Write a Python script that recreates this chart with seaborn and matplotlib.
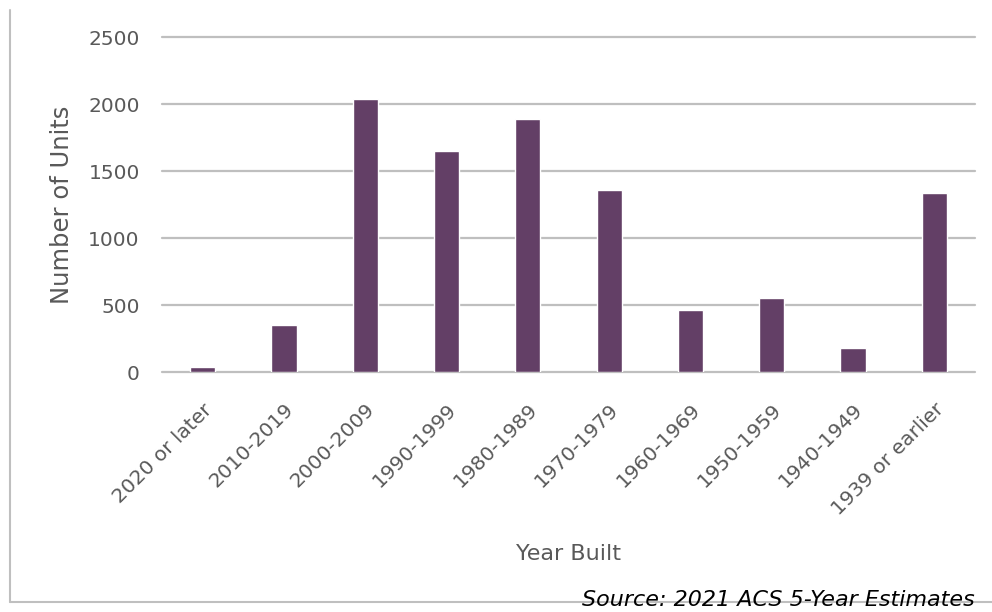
import matplotlib.pyplot as plt
import seaborn as sns
import pandas as pd

# dados
year_built = ['2020 or later', '2010-2019', '2000-2009', '1990-1999', '1980-1989',
              '1970-1979', '1960-1969', '1950-1959', '1940-1949', '1939 or earlier']
units = [40, 350, 2040, 1650, 1885, 1358, 460, 551, 179, 1338]
y_ticks = [0, 500, 1000, 1500, 2000, 2500]

df = pd.DataFrame({'Year Built': year_built, 'Units': units})

sns.set_style('white')
plt.rcParams['font.family'] = ['DejaVu Sans']

fig = plt.figure(figsize=(9.92, 6.12), dpi=100)
ax = fig.add_axes([0.1633, 0.392, 0.8196, 0.5475])

sns.barplot(data=df, x='Year Built', y='Units', color='#633f66', saturation=1,
            width=0.31, ax=ax, zorder=3)

ax.set_ylim(0, 2500)
ax.set_xlim(-0.5, 9.5)
ax.set_yticks(y_ticks)
ax.yaxis.grid(True, color='#bfbfbf', linewidth=1.6, zorder=0)
ax.set_axisbelow(True)
for gl in ax.get_ygridlines():
    gl.set_clip_on(False)  # linhas do topo e do zero com espessura inteira
sns.despine(ax=ax, left=True, bottom=True)
ax.tick_params(axis='both', length=0, colors='#595959', labelsize=14.5)
ax.tick_params(axis='y', pad=16)
ax.tick_params(axis='x', pad=20)
plt.setp(ax.get_xticklabels(), rotation=45, ha='right', rotation_mode='anchor')

ax.set_xlabel('Year Built', color='#595959', fontsize=16, labelpad=18)
ax.set_ylabel('Number of Units', color='#595959', fontsize=17.5, labelpad=10)

# moldura do gráfico (esquerda e baixo)
fig.add_artist(plt.Line2D([10 / 992, 10 / 992], [1 - 10 / 612, 1 - 602 / 612],
                          color='#bfbfbf', linewidth=1.5))
fig.add_artist(plt.Line2D([10 / 992, 1.0], [1 - 602 / 612, 1 - 602 / 612],
                          color='#bfbfbf', linewidth=1.5))

fig.text(975 / 992, 1 - 600 / 612, 'Source: 2021 ACS 5-Year Estimates',
         ha='right', va='center', fontsize=16, style='italic', color='black')

plt.savefig('out.png', dpi=100)
